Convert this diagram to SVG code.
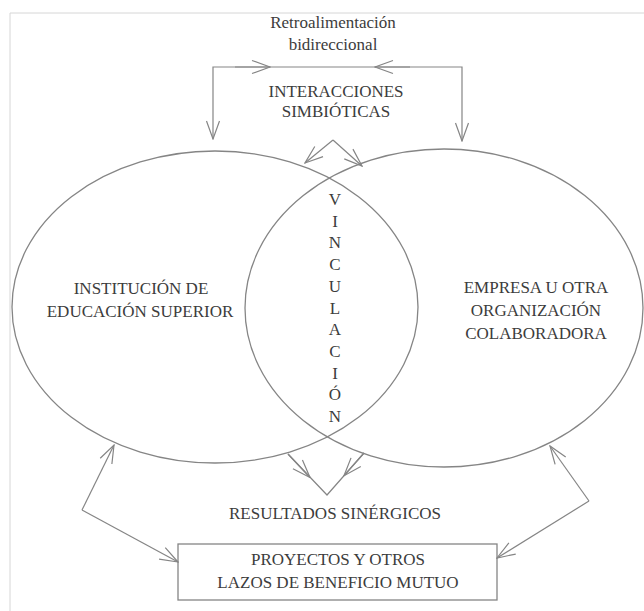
<svg xmlns="http://www.w3.org/2000/svg" width="644" height="611" viewBox="0 0 644 611">
  <defs>
    <style>
      .t { font-family: "Liberation Serif", "Times New Roman", serif; font-size: 17px; fill: #3c3c3c; text-anchor: middle; }
      .shape { fill: none; stroke: #858585; stroke-width: 1.3; }
      .conn { fill: none; stroke: #858585; stroke-width: 1.2; }
      .frame { fill: none; stroke: #d6d6d6; stroke-width: 1; }
    </style>
    <marker id="arr" markerUnits="userSpaceOnUse" markerWidth="20" markerHeight="16" viewBox="0 0 20 16" refX="19" refY="8" orient="auto">
      <path d="M1,1.5 L19,8 L1,14.5" fill="none" stroke="#858585" stroke-width="1.2"/>
    </marker>
  </defs>
  <rect width="644" height="611" fill="#ffffff"/>
  <path class="frame" d="M10,611 V13 H644"/>

  <g id="feedback-label">
    <text class="t" x="333" y="28">Retroalimentación</text>
    <text class="t" x="333" y="50">bidireccional</text>
  </g>

  <g id="interacciones">
    <text class="t" x="336" y="97">INTERACCIONES</text>
    <text class="t" x="336" y="117">SIMBIÓTICAS</text>
  </g>

  <g id="ies">
    <ellipse class="shape" cx="215" cy="307" rx="203" ry="156"/>
    <text class="t" x="141" y="294">INSTITUCIÓN DE</text>
    <text class="t" x="140" y="317">EDUCACIÓN SUPERIOR</text>
  </g>

  <g id="empresa">
    <ellipse class="shape" cx="444" cy="308" rx="199" ry="159"/>
    <text class="t" x="536" y="293">EMPRESA U OTRA</text>
    <text class="t" x="536" y="316">ORGANIZACIÓN</text>
    <text class="t" x="536" y="339">COLABORADORA</text>
  </g>

  <g id="vinculacion">
    <text class="t" x="335" y="205">V</text>
    <text class="t" x="335" y="226.7">I</text>
    <text class="t" x="335" y="248.4">N</text>
    <text class="t" x="335" y="270.1">C</text>
    <text class="t" x="335" y="291.8">U</text>
    <text class="t" x="335" y="313.5">L</text>
    <text class="t" x="335" y="335.2">A</text>
    <text class="t" x="335" y="356.9">C</text>
    <text class="t" x="335" y="378.6">I</text>
    <text class="t" x="335" y="400.3">Ó</text>
    <text class="t" x="335" y="422">N</text>
  </g>

  <g id="resultados">
    <text class="t" x="335" y="519">RESULTADOS SINÉRGICOS</text>
  </g>

  <g id="proyectos">
    <rect class="shape" x="178" y="544" width="319" height="56"/>
    <text class="t" x="338" y="565">PROYECTOS Y OTROS</text>
    <text class="t" x="338" y="588">LAZOS DE BENEFICIO MUTUO</text>
  </g>

  <g id="connectors">
    <path class="conn" d="M333,67 H213 V139" marker-end="url(#arr)"/>
    <path class="conn" d="M333,67 H462 V141" marker-end="url(#arr)"/>
    <path class="conn" d="M235,67 H270" marker-end="url(#arr)"/>
    <path class="conn" d="M410,67 H375" marker-end="url(#arr)"/>
    <path class="conn" d="M333,140 L305,163" marker-end="url(#arr)"/>
    <path class="conn" d="M333,140 L362,166" marker-end="url(#arr)"/>
    <path class="conn" d="M288,454 L327,495 L364,453"/>
    <path class="conn" d="M288,454 L310,477.5" marker-end="url(#arr)"/>
    <path class="conn" d="M364,453 L344,475.7" marker-end="url(#arr)"/>
    <path class="conn" d="M82,510 L114,445" marker-end="url(#arr)"/>
    <path class="conn" d="M82,510 L178,562" marker-end="url(#arr)"/>
    <path class="conn" d="M589,501 L550,446" marker-end="url(#arr)"/>
    <path class="conn" d="M589,501 L497,558" marker-end="url(#arr)"/>
  </g>
</svg>
